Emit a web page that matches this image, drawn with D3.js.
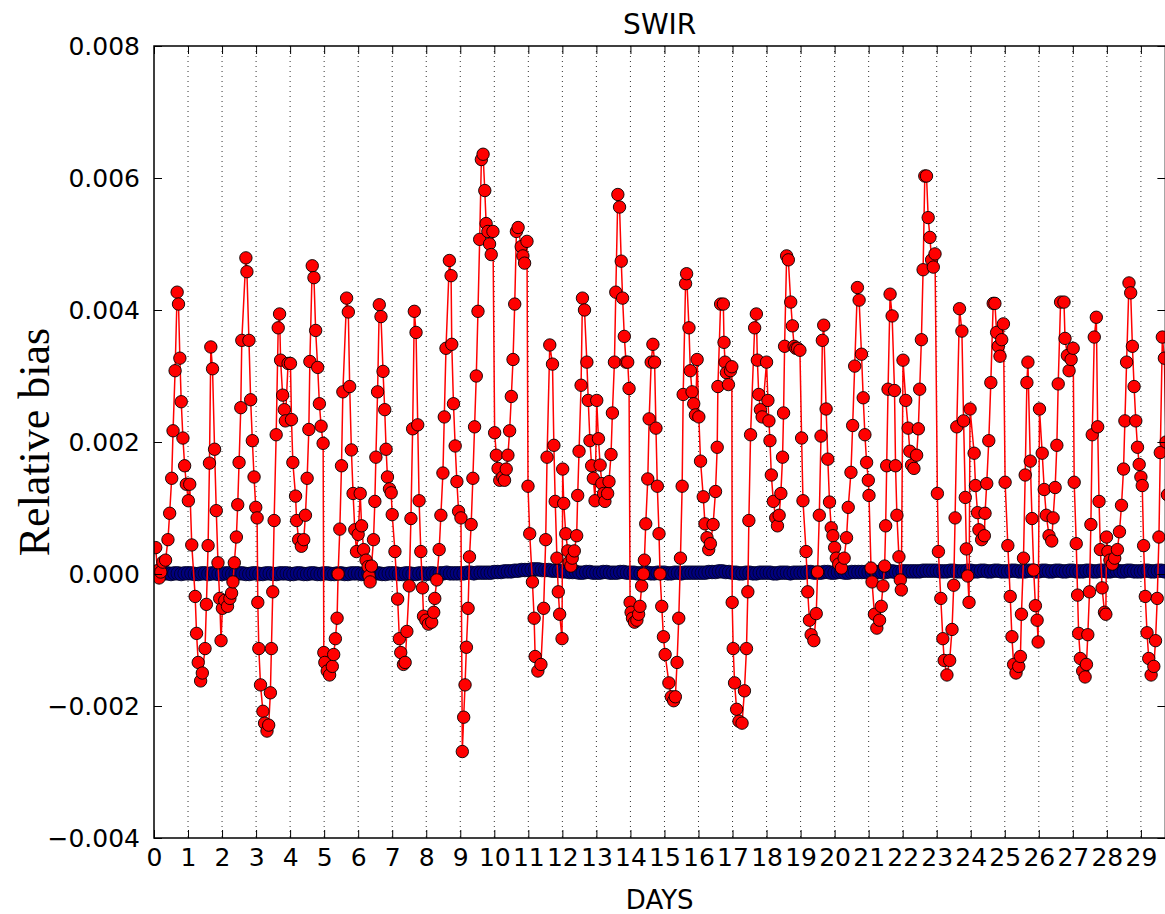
<!DOCTYPE html>
<html>
<head>
<meta charset="utf-8">
<script src="https://cdn.jsdelivr.net/npm/d3@7"></script>
<style>
  body { margin: 0; background: #fff; }
  svg { display: block; font-family: "DejaVu Sans", sans-serif; }
</style>
</head>
<body>
<div id="chart"></div>
<script>
const width = 1165;
const height = 914;

// SWIR relative bias, [day, value x 1e-3]
const swirBias = [
  [0.05,0.40],[0.10,0.05],[0.15,-0.06],[0.20,0.03],[0.26,0.18],[0.34,0.21],[0.41,0.52],[0.46,0.92],[0.52,1.45],[0.56,2.17],
  [0.62,3.08],[0.68,4.27],[0.72,4.09],[0.76,3.27],[0.80,2.61],[0.85,2.06],[0.90,1.64],[0.95,1.36],[1.01,1.11],[1.05,1.36],
  [1.11,0.44],[1.21,-0.34],[1.25,-0.90],[1.30,-1.34],[1.37,-1.62],[1.42,-1.50],[1.50,-1.13],[1.54,-0.46],[1.59,0.43],[1.63,1.68],
  [1.67,3.44],[1.72,3.11],[1.78,1.89],[1.83,0.96],[1.88,0.17],[1.93,-0.37],[1.97,-1.01],[2.01,-0.52],[2.08,-0.40],[2.16,-0.49],
  [2.23,-0.37],[2.28,-0.29],[2.32,-0.12],[2.36,0.17],[2.42,0.56],[2.46,1.05],[2.50,1.69],[2.55,2.52],[2.58,3.54],[2.70,4.79],
  [2.73,4.58],[2.79,3.54],[2.84,2.64],[2.89,2.02],[2.94,1.47],[2.99,1.01],[3.03,0.85],
  [3.05,-0.43],[3.08,-1.13],[3.13,-1.68],[3.20,-2.08],[3.25,-2.26],[3.32,-2.38],[3.37,-2.29],[3.42,-1.80],[3.45,-1.13],[3.49,-0.27],
  [3.53,0.81],[3.59,2.11],[3.65,3.73],[3.69,3.94],[3.72,3.24],[3.78,2.71],[3.83,2.49],[3.86,2.32],[3.94,3.19],[4.01,3.19],
  [4.04,2.34],[4.08,1.69],[4.16,1.18],[4.19,0.81],[4.25,0.52],[4.33,0.42],[4.40,0.52],[4.45,0.89],[4.50,1.45],[4.55,2.19],
  [4.58,3.22],[4.65,4.67],[4.70,4.49],[4.75,3.69],[4.81,3.13],[4.86,2.58],[4.91,2.24],[4.97,1.98],[4.99,-1.19],[5.02,-1.34],
  [5.09,-1.47],[5.16,-1.53],[5.24,-1.40],[5.28,-1.22],[5.33,-0.98],[5.38,-0.67],[5.41,0.00],[5.46,0.68],[5.51,1.64],[5.55,2.76],
  [5.66,4.18],[5.71,3.97],[5.75,2.84],[5.80,1.88],[5.85,1.22],[5.90,0.67],[5.95,0.34],[6.00,0.60],[6.06,1.22],[6.10,0.73],
  [6.16,0.37],[6.23,0.21],[6.29,0.11],[6.32,-0.03],[6.35,-0.12],[6.39,0.12],[6.45,0.52],[6.49,1.10],[6.52,1.77],[6.57,2.76],
  [6.62,4.08],[6.67,3.90],[6.73,3.07],[6.78,2.49],[6.82,1.89],[6.86,1.47],[6.92,1.29],[6.97,1.23],[7.00,0.90],[7.08,0.34],
  [7.16,-0.38],[7.21,-0.98],[7.25,-1.19],[7.33,-1.37],[7.38,-1.34],[7.43,-0.87],[7.50,-0.18],[7.55,0.84],[7.60,2.20],[7.65,3.98],
  [7.70,3.66],[7.75,2.26],[7.79,1.11],[7.84,0.34],[7.89,-0.21],[7.92,-0.64],[7.99,-0.70],[8.06,-0.76],[8.16,-0.73],[8.22,-0.58],
  [8.25,-0.37],[8.31,-0.09],[8.38,0.37],[8.43,0.89],[8.49,1.53],[8.53,2.38],[8.58,3.42],[8.68,4.75],[8.73,4.52],[8.75,3.48],
  [8.80,2.58],[8.85,1.94],[8.90,1.40],[8.95,0.95],[9.02,0.85],
  [9.06,-2.69],[9.10,-2.17],[9.14,-1.68],[9.18,-1.11],[9.23,-0.52],[9.27,0.26],[9.32,0.75],[9.37,1.45],[9.42,2.23],[9.47,3.00],
  [9.52,3.98],[9.57,5.07],[9.62,6.28],[9.67,6.36],[9.72,5.81],[9.76,5.31],[9.81,5.19],[9.86,5.00],[9.91,4.84],[9.96,5.19],
  [10.01,2.14],[10.06,1.80],[10.11,1.60],[10.16,1.42],[10.25,1.47],[10.30,1.42],[10.35,1.59],[10.40,1.80],[10.45,2.17],[10.50,2.69],
  [10.55,3.25],[10.60,4.09],[10.65,5.19],[10.70,5.25],[10.79,4.96],[10.84,4.82],[10.89,4.71],[10.96,5.04],[10.99,1.33],[11.04,0.61],
  [11.12,-0.12],[11.17,-0.67],[11.20,-1.25],[11.28,-1.47],[11.37,-1.37],[11.45,-0.52],[11.51,0.52],[11.55,1.77],[11.63,3.47],[11.71,3.18],
  [11.75,1.95],[11.79,1.10],[11.84,0.24],[11.88,-0.27],[11.92,-0.61],[11.99,-0.98],
  [12.01,1.59],[12.04,1.07],[12.10,0.61],[12.16,0.35],[12.20,0.18],[12.25,0.12],[12.29,0.24],[12.35,0.35],[12.42,0.58],[12.45,1.19],
  [12.49,1.86],[12.55,2.86],[12.59,4.18],[12.65,4.00],[12.72,3.21],[12.76,2.63],[12.81,2.02],[12.86,1.64],[12.91,1.45],[12.96,1.11],
  [13.01,2.63],[13.06,2.05],[13.11,1.65],[13.16,1.37],[13.21,1.22],[13.25,1.10],[13.33,1.22],[13.37,1.40],[13.43,1.81],[13.47,2.44],
  [13.53,3.21],[13.57,4.27],[13.63,5.75],[13.68,5.56],[13.73,4.74],[13.77,4.18],[13.82,3.60],[13.87,3.21],[13.92,3.21],[13.96,2.81],
  [13.99,-0.43],[14.02,-0.58],[14.06,-0.67],[14.12,-0.73],[14.19,-0.70],[14.24,-0.61],[14.28,-0.49],[14.33,-0.18],[14.38,0.00],[14.41,0.21],
  [14.45,0.76],[14.51,1.44],[14.55,2.35],[14.61,3.21],[14.66,3.48],[14.71,3.21],[14.75,2.21],[14.79,1.33],[14.84,0.61],[14.87,0.00],
  [14.92,-0.49],[14.97,-0.95],[15.02,-1.22],
  [15.13,-1.65],[15.20,-1.86],[15.27,-1.92],[15.32,-1.86],[15.37,-1.34],[15.42,-0.67],[15.47,0.24],[15.52,1.33],[15.55,2.72],[15.62,4.40],
  [15.65,4.55],[15.72,3.73],[15.76,3.08],[15.81,2.76],[15.86,2.58],[15.91,2.41],[15.96,3.25],[16.01,2.38],[16.06,1.71],[16.14,1.17],
  [16.19,0.76],[16.25,0.55],[16.30,0.37],[16.35,0.46],[16.43,0.75],[16.50,1.25],[16.55,1.92],[16.57,2.84],[16.65,4.09],[16.73,4.09],
  [16.75,3.51],[16.78,3.21],[16.82,3.05],[16.88,2.87],[16.94,3.08],[16.98,3.14],[16.99,-0.43],[17.02,-1.13],[17.06,-1.65],[17.12,-2.05],
  [17.19,-2.23],[17.28,-2.26],[17.35,-1.77],[17.41,-1.13],[17.45,-0.27],[17.48,0.81],[17.53,2.11],[17.65,3.73],[17.70,3.94],[17.73,3.24],
  [17.77,2.72],[17.82,2.49],[17.87,2.38],[18.00,3.21],
  [18.04,2.63],[18.07,2.32],[18.10,2.02],[18.14,1.50],[18.20,1.10],[18.27,0.85],[18.32,0.73],[18.37,0.89],[18.42,1.22],[18.47,1.77],
  [18.50,2.44],[18.53,3.45],[18.59,4.82],[18.64,4.76],[18.71,4.12],[18.76,3.76],[18.81,3.45],[18.86,3.42],[18.91,3.42],[18.98,3.39],
  [19.03,2.06],[19.07,1.11],[19.16,0.34],[19.21,-0.27],[19.26,-0.70],[19.31,-0.92],[19.39,-1.01],[19.46,-0.60],[19.50,0.03],[19.55,0.89],
  [19.60,2.09],[19.64,3.54],[19.68,3.77],[19.75,2.50],[19.80,1.74],[19.85,1.09],[19.90,0.70],[19.95,0.58],[20.00,0.40],[20.05,0.24],
  [20.12,0.15],[20.20,0.09],[20.28,0.24],[20.35,0.55],[20.40,1.01],[20.48,1.54],[20.53,2.25],[20.59,3.15],[20.67,4.34],[20.72,4.15],
  [20.79,3.33],[20.84,2.67],[20.89,2.11],[20.94,1.69],[20.99,1.42],[21.01,1.19],[21.07,0.09],[21.10,-0.12],
  [21.17,-0.61],[21.24,-0.82],[21.32,-0.70],[21.37,-0.49],[21.42,-0.18],[21.47,0.12],[21.50,0.73],[21.53,1.64],[21.57,2.80],[21.63,4.24],
  [21.69,3.91],[21.76,2.78],[21.79,1.64],[21.83,0.89],[21.89,0.26],[21.93,-0.09],[21.96,-0.24],[22.01,3.24],[22.09,2.63],[22.16,2.21],
  [22.21,1.86],[22.26,1.65],[22.33,1.60],[22.41,1.80],[22.46,2.20],[22.50,2.80],[22.55,3.55],[22.60,4.61],[22.65,6.03],[22.70,6.03],
  [22.75,5.40],[22.80,5.10],[22.85,4.76],[22.90,4.65],[22.95,4.85],[23.02,1.22],[23.05,0.34],[23.12,-0.37],[23.18,-0.98],[23.22,-1.31],
  [23.30,-1.53],[23.38,-1.31],[23.45,-0.84],[23.50,-0.17],[23.54,0.85],[23.59,2.23],[23.67,4.02],[23.74,3.68],[23.79,2.32],[23.84,1.16],
  [23.87,0.38],[23.91,-0.03],[23.95,-0.43],
  [23.98,2.50],[24.10,1.83],[24.14,1.34],[24.20,0.93],[24.24,0.67],[24.32,0.52],[24.40,0.58],[24.42,0.92],[24.47,1.37],[24.53,2.02],
  [24.59,2.90],[24.66,4.10],[24.71,4.10],[24.76,3.66],[24.81,3.45],[24.86,3.30],[24.91,3.55],[24.96,3.79],[25.01,1.39],[25.09,0.43],
  [25.16,-0.34],[25.21,-0.95],[25.26,-1.37],[25.33,-1.50],[25.41,-1.40],[25.46,-1.25],[25.49,-0.61],[25.55,0.24],[25.60,1.50],[25.65,2.90],
  [25.68,3.21],[25.75,1.71],[25.80,0.84],[25.85,0.06],[25.90,-0.48],[25.95,-0.70],[25.98,-1.03],[26.02,2.50],[26.10,1.83],[26.16,1.28],
  [26.22,0.89],[26.30,0.58],[26.38,0.50],[26.42,0.85],[26.48,1.31],[26.53,1.95],[26.57,2.88],[26.64,4.12],[26.74,4.12],[26.77,3.57],
  [26.84,3.31],[26.89,3.08],[26.95,3.25],[27.01,3.42],
  [27.04,1.39],[27.10,0.46],[27.14,-0.32],[27.17,-0.90],[27.22,-1.28],[27.29,-1.47],[27.36,-1.56],[27.40,-1.37],[27.44,-0.92],[27.49,-0.27],
  [27.53,0.75],[27.57,2.11],[27.63,3.59],[27.69,3.89],[27.73,2.23],[27.77,1.10],[27.81,0.37],[27.86,-0.21],[27.93,-0.58],[27.97,-0.61],
  [27.99,0.56],[28.03,0.34],[28.09,0.21],[28.16,0.15],[28.23,0.24],[28.31,0.37],[28.37,0.64],[28.43,1.04],[28.49,1.59],[28.53,2.32],
  [28.58,3.21],[28.65,4.41],[28.70,4.26],[28.75,3.45],[28.80,2.84],[28.85,2.32],[28.90,1.92],[28.95,1.66],[29.00,1.47],[29.04,1.34],
  [29.08,0.43],[29.13,-0.34],[29.18,-0.89],[29.23,-1.28],[29.30,-1.53],[29.38,-1.40],[29.43,-1.01],[29.48,-0.37],[29.53,0.56],[29.57,1.84],
  [29.63,3.59],[29.69,3.27],[29.74,2.00],[29.78,1.20]
];

// reference series (blue), one reading every 0.1 day, value x 1e-5
const refStep = 0.1;
const refBias = [
  1,1,0,1,1,0,1,1,0,1,  1,1,0,0,1,1,0,1,1,0,  0,1,1,0,0,1,1,0,0,1,  1,0,0,1,1,0,0,1,1,1,
  0,0,1,1,0,0,1,1,0,0,  1,1,0,0,1,1,0,0,1,1,  1,0,0,1,2,1,1,0,0,1,  1,1,0,0,1,1,0,0,1,1,
  0,1,1,0,1,1,2,1,1,1,  1,1,2,2,1,2,2,2,2,2,  3,3,3,4,4,4,5,5,6,6,  6,7,7,7,6,6,6,5,5,5,
  4,4,3,3,3,2,2,3,3,2,  2,2,3,3,2,2,2,3,3,2,  2,2,1,1,2,2,1,1,2,2,  2,1,1,2,2,1,2,2,2,2,
  2,2,2,3,3,3,4,4,3,3,  2,2,1,1,2,2,1,1,2,2,  2,2,1,1,2,2,2,1,2,2,  2,2,3,3,2,2,2,3,3,2,
  2,3,3,2,2,3,3,3,3,3,  3,3,3,3,3,3,4,4,3,3,  4,4,4,4,4,4,5,5,5,5,  5,4,4,4,5,5,4,4,4,5,
  5,4,4,5,5,4,4,5,5,4,  4,4,5,5,4,4,4,5,5,4,  4,5,5,4,4,5,5,4,4,5,  5,4,4,4,5,5,4,4,5,5,
  4,4,5,5,4,4,5,5,4,4,  4,5,5,4,4,5,5,4
];

const dayTicks = d3.range(0, 30);
const biasTicks = [-0.004, -0.002, 0, 0.002, 0.004, 0.006, 0.008];

const plot = { left: 154, top: 46, right: 1165.4, bottom: 838 };

const svg = d3.select("#chart")
  .append("svg")
  .attr("width", width)
  .attr("height", height);

svg.append("rect").attr("width", width).attr("height", height).attr("fill", "#fff");

const x = d3.scaleLinear().domain([0, 29.72]).range([plot.left, plot.right]);
const y = d3.scaleLinear().domain([-0.004, 0.008]).range([plot.bottom, plot.top]);

svg.append("clipPath")
  .attr("id", "plot-clip")
  .append("rect")
  .attr("x", plot.left)
  .attr("y", plot.top)
  .attr("width", plot.right - plot.left)
  .attr("height", plot.bottom - plot.top);

// vertical dotted grid
svg.append("g")
  .selectAll("line")
  .data(dayTicks.filter(d => d > 0))
  .join("line")
  .attr("x1", d => x(d))
  .attr("x2", d => x(d))
  .attr("y1", plot.top)
  .attr("y2", plot.bottom)
  .attr("stroke", "#333")
  .attr("stroke-width", 1)
  .attr("stroke-dasharray", "1,4");

const data = svg.append("g").attr("clip-path", "url(#plot-clip)");

const refPoints = refBias.map((v, i) => [i * refStep, v * 1e-5]);
const swirPoints = swirBias.map(d => [d[0], d[1] * 1e-3]);

const line = d3.line().x(d => x(d[0])).y(d => y(d[1]));

data.append("path")
  .datum(refPoints)
  .attr("fill", "none")
  .attr("stroke", "#0000ff")
  .attr("stroke-width", 1.5)
  .attr("d", line);

data.append("g")
  .selectAll("circle")
  .data(refPoints)
  .join("circle")
  .attr("cx", d => x(d[0]))
  .attr("cy", d => y(d[1]))
  .attr("r", 6.8)
  .attr("fill", "#000080")
  .attr("stroke", "#000020")
  .attr("stroke-width", 0.8);

data.append("path")
  .datum(swirPoints)
  .attr("fill", "none")
  .attr("stroke", "#ff0000")
  .attr("stroke-width", 1.5)
  .attr("d", line);

data.append("g")
  .selectAll("circle")
  .data(swirPoints)
  .join("circle")
  .attr("cx", d => x(d[0]))
  .attr("cy", d => y(d[1]))
  .attr("r", 6.2)
  .attr("fill", "#ff0000")
  .attr("stroke", "#000")
  .attr("stroke-width", 0.9);

// axes with inward ticks on all four sides
const fmt = d3.format(".3f");

const bottomAxis = svg.append("g")
  .attr("transform", `translate(0,${plot.bottom})`)
  .call(d3.axisBottom(x).tickValues(dayTicks).tickSize(-8).tickPadding(10));

const topAxis = svg.append("g")
  .attr("transform", `translate(0,${plot.top})`)
  .call(d3.axisTop(x).tickValues(dayTicks).tickSize(-8).tickFormat(""));

const leftAxis = svg.append("g")
  .attr("transform", `translate(${plot.left},0)`)
  .call(d3.axisLeft(y).tickValues(biasTicks).tickSize(-8).tickPadding(14).tickFormat(fmt));

const rightAxis = svg.append("g")
  .attr("transform", `translate(${plot.right},0)`)
  .call(d3.axisRight(y).tickValues(biasTicks).tickSize(-8).tickFormat(""));

[bottomAxis, topAxis, leftAxis, rightAxis].forEach(a => {
  a.select(".domain").remove();
  a.selectAll(".tick line").attr("stroke", "#000").attr("stroke-width", 1);
  a.selectAll("text")
    .attr("fill", "#000")
    .style("font-family", "'DejaVu Sans', sans-serif")
    .style("font-size", "25px");
});

svg.append("rect")
  .attr("x", plot.left)
  .attr("y", plot.top)
  .attr("width", plot.right - plot.left)
  .attr("height", plot.bottom - plot.top)
  .attr("fill", "none")
  .attr("stroke", "#000")
  .attr("stroke-width", 1.5);

svg.append("text")
  .attr("x", (plot.left + plot.right) / 2)
  .attr("y", 34)
  .attr("text-anchor", "middle")
  .style("font-size", "28px")
  .text("SWIR");

svg.append("text")
  .attr("x", (plot.left + plot.right) / 2)
  .attr("y", 909)
  .attr("text-anchor", "middle")
  .style("font-size", "26px")
  .text("DAYS");

svg.append("text")
  .attr("transform", `translate(49,${(plot.top + plot.bottom) / 2}) rotate(-90)`)
  .attr("text-anchor", "middle")
  .style("font-family", "'Liberation Serif', serif")
  .style("font-size", "44px")
  .text("Relative bias");
</script>
</body>
</html>
